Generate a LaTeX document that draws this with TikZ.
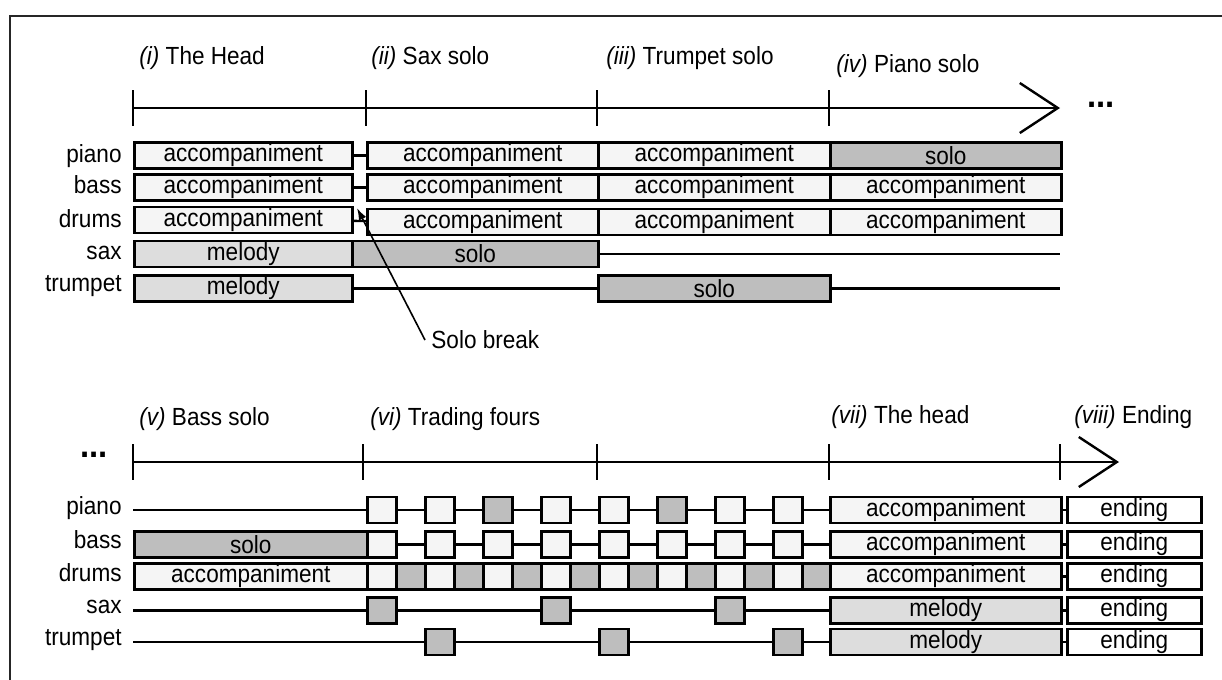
\documentclass[tikz,border=0pt]{standalone}
\usepackage{fontspec}
\setmainfont{Liberation Sans}[FakeStretch=0.91]
\usepackage{tikz}
\usetikzlibrary{arrows.meta}
\definecolor{accfill}{RGB}{245,245,245}
\definecolor{melfill}{RGB}{221,221,221}
\definecolor{solofill}{RGB}{190,190,190}

\begin{document}
\begin{tikzpicture}[x=0.5pt, y=-0.5pt,
    every node/.style={font=\fontsize{12.4}{14}\selectfont},
    bar/.style={draw, line width=1.3pt, inner sep=0pt, minimum height=13pt, anchor=west},
    wd/.style={minimum width=#1*0.5pt},
    acc/.style={bar, fill=accfill},
    mel/.style={bar, fill=melfill},
    solo/.style={bar, fill=solofill},
    endbox/.style={bar, fill=white},
    cell/.style={bar, minimum width=14.5pt},
    inst/.style={anchor=base east, inner sep=0pt},
    part/.style={anchor=west, inner sep=0pt},
    dots/.style={anchor=base, inner sep=0pt, font=\fontsize{18}{20}\selectfont\bfseries},
    link/.style={line width=1.2pt},
    axisline/.style={line width=1.2pt},
    barb/.style={-{Straight Barb[length=19pt, width=25pt]}}
]
\useasboundingbox (0,0) rectangle (1222,680);
\draw[line width=1pt, black!85] (10,690) -- (10,16) -- (1232,16);

% upper half: head and solos
\coordinate (t0) at (133,108);
\coordinate (t1) at (366,108);
\coordinate (t2) at (597,108);
\coordinate (t3) at (829,108);
\coordinate (tend) at (1060,108);
\draw[axisline, barb] (t0) -- (tend);
\foreach \c in {t0,t1,t2,t3}
  \draw[axisline] ([yshift=9pt]\c) -- ([yshift=-9pt]\c);

\node[part] (sec1) at (139,58) {\textit{(i)} The Head};
\node[part] (sec2) at (371,58) {\textit{(ii)} Sax solo};
\node[part] (sec3) at (606,58) {\textit{(iii)} Trumpet solo};
\node[part] (sec4) at (836,66) {\textit{(iv)} Piano solo};
\node[dots] (more1) at (1101,107.5) {...};

\node[inst] (ip1) at (122,162) {piano};
\node[inst] (ib1) at (122,193) {bass};
\node[inst] (id1) at (122,227) {drums};
\node[inst] (is1) at (122,259) {sax};
\node[inst] (it1) at (122,291) {trumpet};

\node[acc, wd=218] (pa1) at (133,155.5) {accompaniment};
\node[acc, wd=231] (pa2) at (366,155.5) {accompaniment};
\node[acc, wd=232] (pa3) at (597,155.5) {accompaniment};
\node[solo, wd=231] (pa4) at (829,155.5) {solo};
\draw[link] (pa1) -- (pa2);

\node[acc, wd=218] (bb1) at (133,187.5) {accompaniment};
\node[acc, wd=231] (bb2) at (366,187.5) {accompaniment};
\node[acc, wd=232] (bb3) at (597,187.5) {accompaniment};
\node[acc, wd=231] (bb4) at (829,187.5) {accompaniment};
\draw[link] (bb1) -- (bb2);

\node[acc, wd=218] (dr1) at (133,220) {accompaniment};
\node[acc, wd=231] (dr2) at (366,222) {accompaniment};
\node[acc, wd=232] (dr3) at (597,222) {accompaniment};
\node[acc, wd=231] (dr4) at (829,222) {accompaniment};
\draw[link] (dr1) -- (dr2);

\node[mel, wd=218] (sx1) at (133,254) {melody};
\node[solo, wd=246] (sx2) at (351,254) {solo};
\coordinate (sxend) at (1060,254);
\draw[link] (sx2) -- (sxend);

\node[mel, wd=218] (tr1) at (133,288.5) {melody};
\node[solo, wd=232] (tr2) at (597,288.5) {solo};
\coordinate (trend) at (1060,288.5);
\draw[link] (tr1) -- (tr2);
\draw[link] (tr2) -- (trend);

\node[part] (brk) at (431,340) {Solo break};
\coordinate (brkpt) at (357,208);
\draw[line width=0.8pt, -{Latex[length=6pt, width=4pt]}] ([xshift=-3pt]brk.west) -- (brkpt);

% lower half: bass solo, trading fours, head, ending
\coordinate (u0) at (133,462);
\coordinate (u1) at (363,462);
\coordinate (u2) at (597,462);
\coordinate (u3) at (829,462);
\coordinate (u4) at (1060,462);
\coordinate (uend) at (1119,462);
\draw[axisline, barb] (u0) -- (uend);
\foreach \c in {u0,u1,u2,u3,u4}
  \draw[axisline] ([yshift=9pt]\c) -- ([yshift=-9pt]\c);

\node[dots] (more2) at (94,457.5) {...};
\node[part] (sec5) at (139,419) {\textit{(v)} Bass solo};
\node[part] (sec6) at (370,419) {\textit{(vi)} Trading fours};
\node[part] (sec7) at (831,417) {\textit{(vii)} The head};
\node[part] (sec8) at (1074,417) {\textit{(viii)} Ending};

\node[inst] (ip2) at (122,514) {piano};
\node[inst] (ib2) at (122,548) {bass};
\node[inst] (id2) at (122,581) {drums};
\node[inst] (is2) at (122,613) {sax};
\node[inst] (it2) at (122,645) {trumpet};

% piano
\coordinate (pl) at (133,510);
\foreach \k/\f in {0/accfill,1/accfill,2/solofill,3/accfill,4/accfill,5/solofill,6/accfill,7/accfill}
  \node[cell, fill=\f] (pq\k) at ({366+58*\k},510) {};
\node[acc, wd=231] (pa5) at (829,510) {accompaniment};
\node[endbox, wd=134] (pe) at (1066,510) {ending};
\draw[link] (pl) -- (pq0);
\foreach \a/\b in {0/1,1/2,2/3,3/4,4/5,5/6,6/7}
  \draw[link] (pq\a) -- (pq\b);
\draw[link] (pq7) -- (pa5);
\draw[link] (pa5) -- (pe);

% bass
\node[solo, wd=233] (bb5) at (133,544.5) {solo};
\foreach \k in {0,...,7}
  \node[cell, fill=accfill] (bq\k) at ({366+58*\k},544.5) {};
\node[acc, wd=231] (bb6) at (829,544.5) {accompaniment};
\node[endbox, wd=134] (be) at (1066,544.5) {ending};
\foreach \a/\b in {0/1,1/2,2/3,3/4,4/5,5/6,6/7}
  \draw[link] (bq\a) -- (bq\b);
\draw[link] (bq7) -- (bb6);
\draw[link] (bb6) -- (be);

% drums
\node[acc, wd=233] (dr5) at (133,576.5) {accompaniment};
\foreach \j in {0,2,...,14}
  \node[cell, fill=accfill] (dq\j) at ({366+29*\j},576.5) {};
\foreach \j in {1,3,...,15}
  \node[cell, fill=solofill] (dq\j) at ({366+29*\j},576.5) {};
\node[acc, wd=231] (dr6) at (829,576.5) {accompaniment};
\node[endbox, wd=134] (de) at (1066,576.5) {ending};
\draw[link] (dr6) -- (de);

% sax
\coordinate (sl) at (133,610.5);
\foreach \k/\n in {0/0,3/1,6/2}
  \node[cell, fill=solofill] (xq\n) at ({366+58*\k},610.5) {};
\node[mel, wd=231] (sx5) at (829,610.5) {melody};
\node[endbox, wd=134] (se) at (1066,610.5) {ending};
\draw[link] (sl) -- (xq0);
\draw[link] (xq0) -- (xq1);
\draw[link] (xq1) -- (xq2);
\draw[link] (xq2) -- (sx5);
\draw[link] (sx5) -- (se);

% trumpet
\coordinate (tl) at (133,642);
\foreach \k/\n in {1/0,4/1,7/2}
  \node[cell, fill=solofill] (yq\n) at ({366+58*\k},642) {};
\node[mel, wd=231] (tr5) at (829,642) {melody};
\node[endbox, wd=134] (te) at (1066,642) {ending};
\draw[link] (tl) -- (yq0);
\draw[link] (yq0) -- (yq1);
\draw[link] (yq1) -- (yq2);
\draw[link] (yq2) -- (tr5);
\draw[link] (tr5) -- (te);
\end{tikzpicture}
\end{document}
